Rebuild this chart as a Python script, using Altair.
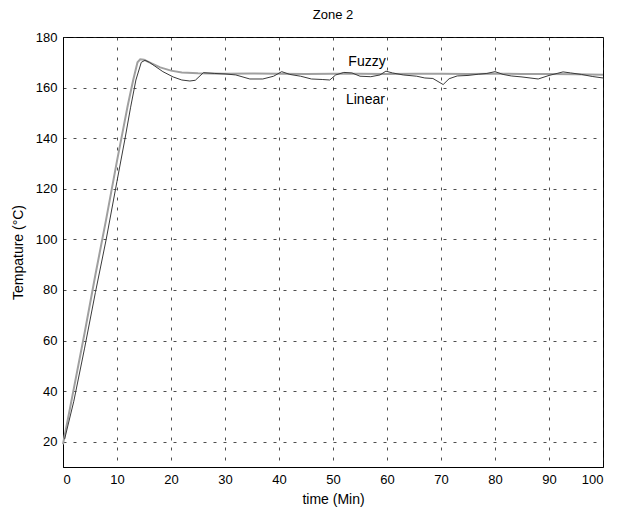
import altair as alt
import pandas as pd

fuzzy_t = [0, 2, 4, 6, 8, 10, 11, 12, 13, 13.8, 14.3, 15, 16, 18, 20, 22, 25, 30, 35, 40, 45, 50, 55, 60, 65, 70, 75, 80, 85, 90, 95, 100]
fuzzy_v = [19, 41, 63, 86, 108, 131, 142, 153, 163, 170, 171.2, 171, 170, 168, 166.7, 166, 165.7, 165.5, 165.6, 165.5, 165.4, 165.5, 165.5, 165.4, 165.5, 165.5, 165.4, 165.5, 165.4, 165.4, 165.3, 165.1]

linear_t = [0.3, 2, 4, 6, 8, 10, 11.5, 12.5, 13.5, 14.5, 15.2, 16, 17, 18.5, 20.4, 22, 23.5, 24.5, 26, 28, 30, 32, 34.6, 37, 39, 40.5, 42, 44, 46, 48, 49.4, 50.5, 52, 53.5, 55, 57, 58.7, 59.8, 61, 63, 65.5, 67, 68.5, 70.4, 71.5, 73, 75, 77, 78.5, 80, 81.5, 83, 85, 88, 90, 91.5, 92.6, 94, 96, 98, 100]
linear_v = [21, 36, 57, 79, 100, 123, 140, 152, 163, 170, 170.8, 170, 168.5, 166.3, 164.2, 163, 162.6, 162.9, 165.9, 165.6, 165.4, 165, 163.4, 163.4, 164.5, 166.3, 165.2, 164.5, 163.4, 163.2, 163, 165, 166, 165.8, 164.5, 164.3, 165, 166.5, 165.8, 165, 164.5, 163.8, 163.6, 161.2, 163.5, 164.6, 164.8, 165.3, 165.6, 166.3, 165.2, 164.6, 164.2, 163.4, 164.8, 165.6, 166.2, 165.8, 165.2, 164.4, 163.8]

label_text = ["Fuzzy", "Linear"]
label_t = [56.3, 56.0]
label_v = [170.0, 155.0]

FONT = "Liberation Sans"

df_f = pd.DataFrame({"t": fuzzy_t, "v": fuzzy_v})
df_l = pd.DataFrame({"t": linear_t, "v": linear_v})
df_lab = pd.DataFrame({"text": label_text, "t": label_t, "v": label_v})

xenc = alt.X("t:Q", scale=alt.Scale(domain=[0, 100], nice=False),
             axis=alt.Axis(values=list(range(0, 101, 10)), title="time (Min)"))
yenc = alt.Y("v:Q", scale=alt.Scale(domain=[10, 180], nice=False, zero=False),
             axis=alt.Axis(values=list(range(20, 181, 20)), title="Tempature (°C)"))

fuzzy = alt.Chart(df_f).mark_line(color="#a0a0a0", strokeWidth=2).encode(x=xenc, y=yenc)
linear = alt.Chart(df_l).mark_line(color="#3a3a3a", strokeWidth=1).encode(x="t:Q", y="v:Q")
labels = alt.Chart(df_lab).mark_text(font=FONT, fontSize=14, color="black").encode(
    x="t:Q", y="v:Q", text="text:N")

chart = alt.layer(fuzzy, linear, labels).properties(
    width=540, height=430,
    title=alt.TitleParams("Zone 2", font=FONT, fontSize=13, fontWeight="normal", offset=9),
    autosize=alt.AutoSizeParams(type="none"),
    padding={"left": 55, "top": 29, "right": 14, "bottom": 40},
).configure_view(stroke="black", strokeWidth=1).configure_axis(
    grid=True, gridColor="#222222", gridDash=[3, 7], gridOpacity=1, gridWidth=0.8,
    domainColor="black", ticks=False, labelFont=FONT, labelFontSize=13,
    labelColor="black", titleFont=FONT, titleFontSize=14, titleFontWeight="normal",
    titleColor="black", labelPadding=6,
).configure_axisX(titlePadding=6).configure_axisY(titlePadding=10)

chart.save("out.html", embed_options={"renderer": "svg", "actions": False})
